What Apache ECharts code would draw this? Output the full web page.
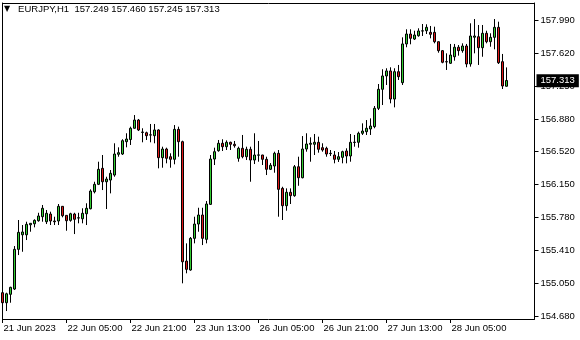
<!DOCTYPE html>
<html>
<head>
<meta charset="utf-8">
<script src="https://cdn.jsdelivr.net/npm/echarts@6/dist/echarts.min.js"></script>
<style>
html,body{margin:0;padding:0;background:#fff;}
#chart{width:580px;height:340px;}
</style>
</head>
<body>
<div id="chart"></div>
<script>
const symbolName = 'EURJPY,H1';
const xTickLabels = ['21 Jun 2023','22 Jun 05:00','22 Jun 21:00','23 Jun 13:00','26 Jun 05:00','26 Jun 21:00','27 Jun 13:00','28 Jun 05:00'];
const xTickStep = 16;
const yTicks = [154.680,155.050,155.410,155.780,156.150,156.520,156.880,157.250,157.620,157.990];
const yMin = 154.646, yMax = 158.180;
const emptyBarsRight = 7;

const opens = [154.940,154.828,154.922,154.981,155.425,155.588,155.588,155.700,155.711,155.745,
155.790,155.734,155.820,155.742,155.742,155.906,155.805,155.749,155.820,155.775,
155.767,155.823,155.879,156.069,156.152,156.331,156.181,156.200,156.256,156.488,
156.491,156.629,156.653,156.779,156.871,156.733,156.729,156.703,156.696,156.760,
156.450,156.547,156.461,156.432,156.767,156.629,155.294,155.194,155.548,155.708,
155.809,155.537,155.928,156.435,156.528,156.611,156.573,156.622,156.600,156.443,
156.555,156.461,156.544,156.424,156.478,156.480,156.432,156.320,156.357,156.499,
156.107,155.913,156.063,156.025,156.349,156.226,156.547,156.600,156.600,156.622,
156.562,156.555,156.499,156.480,156.432,156.454,156.525,156.469,156.620,156.622,
156.723,156.741,156.771,156.797,157.002,157.215,157.364,157.420,157.106,157.412,
157.289,157.722,157.833,157.777,157.814,157.866,157.870,157.852,157.852,157.747,
157.647,157.524,157.506,157.579,157.685,157.647,157.699,157.498,157.797,157.803,
157.680,157.841,157.747,157.796,157.908,157.524,157.249];
const highs = [155.082,154.940,155.007,155.462,155.753,155.697,155.734,155.719,155.761,155.834,
155.921,155.865,155.846,155.790,155.932,155.909,155.805,155.834,155.834,155.834,
155.884,155.940,156.096,156.181,156.405,156.480,156.237,156.312,156.611,156.566,
156.656,156.723,156.797,156.927,156.883,156.779,156.741,156.827,156.827,156.768,
156.573,156.562,156.499,156.815,156.797,156.640,155.492,155.563,155.790,155.890,
155.890,155.965,156.480,156.562,156.648,156.656,156.644,156.629,156.637,156.573,
156.704,156.573,156.573,156.723,156.637,156.482,156.461,156.390,156.517,156.536,
156.125,156.107,156.107,156.368,156.461,156.692,156.723,156.678,156.715,156.685,
156.611,156.573,156.536,156.525,156.513,156.528,156.555,156.715,156.704,156.741,
156.834,156.871,156.890,157.028,157.274,157.439,157.450,157.461,157.450,157.487,
157.796,157.886,157.886,157.870,157.897,157.945,157.942,157.923,157.915,157.750,
157.654,157.617,157.722,157.722,157.710,157.729,157.722,157.953,158.001,157.934,
157.934,157.870,157.841,158.001,157.971,157.610,157.460];
const lows = [154.780,154.735,154.828,154.970,155.361,155.398,155.529,155.622,155.671,155.734,
155.734,155.708,155.697,155.697,155.697,155.783,155.633,155.734,155.596,155.716,
155.716,155.697,155.872,156.051,156.144,156.088,155.876,156.051,156.237,156.461,
156.480,156.566,156.592,156.775,156.748,156.622,156.648,156.622,156.611,156.331,
156.338,156.387,156.338,156.376,156.461,155.045,155.157,155.186,155.492,155.622,
155.473,155.492,155.921,156.368,156.517,156.525,156.536,156.536,156.562,156.405,
156.443,156.424,156.181,156.379,156.405,156.368,156.256,156.312,156.282,155.790,
155.753,155.857,155.932,156.013,156.136,156.219,156.517,156.405,156.480,156.506,
156.517,156.461,156.469,156.387,156.402,156.387,156.387,156.405,156.573,156.562,
156.704,156.704,156.704,156.779,156.983,157.039,157.263,157.058,157.013,157.319,
157.263,157.685,157.718,157.766,157.803,157.811,157.833,157.785,157.729,157.624,
157.506,157.431,157.498,157.535,157.591,157.624,157.461,157.468,157.617,157.487,
157.579,157.729,157.691,157.662,157.498,157.218,157.245];
const closes = [154.828,154.928,155.000,155.425,155.615,155.619,155.705,155.716,155.749,155.798,
155.884,155.828,155.742,155.734,155.906,155.801,155.745,155.823,155.761,155.778,
155.828,155.884,156.077,156.152,156.320,156.181,156.211,156.275,156.491,156.506,
156.640,156.659,156.779,156.871,156.760,156.737,156.696,156.706,156.760,156.450,
156.547,156.443,156.432,156.767,156.629,155.286,155.201,155.548,155.708,155.809,
155.548,155.932,156.435,156.517,156.611,156.573,156.622,156.600,156.584,156.555,
156.461,156.544,156.424,156.480,156.481,156.432,156.320,156.365,156.499,156.096,
155.913,156.063,156.025,156.349,156.226,156.547,156.603,156.611,156.622,156.544,
156.536,156.491,156.496,156.432,156.461,156.517,156.469,156.622,156.624,156.723,
156.748,156.779,156.804,157.002,157.215,157.364,157.420,157.106,157.412,157.356,
157.722,157.833,157.785,157.822,157.867,157.869,157.908,157.830,157.747,157.647,
157.517,157.521,157.598,157.685,157.647,157.699,157.498,157.811,157.811,157.680,
157.841,157.747,157.796,157.908,157.512,157.252,157.313];

// hourly categories starting 21 Jun 2023 13:00 (weekend skipped)
const categories = [];
(function(){
  let t = Date.UTC(2023,5,21,13);
  const total = opens.length + emptyBarsRight;
  for (let i = 0; i < total; i++) {
    const d = new Date(t);
    if (d.getUTCDay() === 6) { t += 48*3600e3; i--; continue; }
    categories.push(d.toISOString().slice(0,16));
    t += 3600e3;
  }
})();

const candleData = opens.map((o,i)=>[o, closes[i], lows[i], highs[i]]);
const last = opens.length - 1;
const fmt = v => v.toFixed(3);
const headerText = symbolName + '  ' + [opens[last],highs[last],lows[last],closes[last]].map(fmt).join(' ');

const chart = echarts.init(document.getElementById('chart'), null, {renderer:'canvas'});
const FONT = '"Liberation Sans", Arial, sans-serif';
const isTick = idx => idx % xTickStep === 0 && (idx / xTickStep) < xTickLabels.length;
const frameLine = { show: true, onZero: false, lineStyle: { color: '#000', width: 1 } };

chart.setOption({
  animation: false,
  backgroundColor: '#fff',
  title: {
    text: '{t|▼}   ' + headerText,
    left: 4, top: 4, padding: 0,
    textStyle: {
      fontFamily: FONT, fontSize: 9.5, fontWeight: 'normal', color: '#000',
      rich: { t: { fontSize: 8, fontFamily: '"DejaVu Sans", sans-serif', color: '#000' } }
    }
  },
  grid: {
    left: 2.5, right: 45.5, top: 3, bottom: 21,
    show: false
  },
  xAxis: [{
    type: 'category',
    data: categories,
    boundaryGap: false,
    axisLine: frameLine,
    axisTick: { show: true, interval: (idx) => isTick(idx), length: 4, lineStyle: { color: '#000' } },
    axisLabel: {
      show: true,
      interval: (idx) => isTick(idx),
      formatter: (val, idx) => xTickLabels[Math.round(idx / xTickStep)] || '',
      align: 'left', margin: 4, padding: [0,0,0,1],
      fontFamily: FONT, fontSize: 9.5, color: '#000'
    },
    splitLine: { show: false }
  }, {
    type: 'category',
    data: categories,
    position: 'top',
    boundaryGap: false,
    axisLine: frameLine,
    axisTick: { show: false }, axisLabel: { show: false }, splitLine: { show: false }
  }],
  yAxis: [{
    type: 'value',
    position: 'right',
    min: yMin, max: yMax,
    axisLine: frameLine,
    axisTick: { show: true, customValues: yTicks, length: 4, lineStyle: { color: '#000' } },
    axisLabel: {
      show: true, customValues: yTicks, formatter: v => fmt(v),
      margin: 6, fontFamily: FONT, fontSize: 9.5, color: '#000'
    },
    splitLine: { show: false }
  }, {
    type: 'value',
    position: 'left',
    min: yMin, max: yMax,
    axisLine: frameLine,
    axisTick: { show: false }, axisLabel: { show: false }, splitLine: { show: false }
  }],
  series: [{
    type: 'candlestick',
    data: candleData,
    barWidth: 2,
    clip: true,
    itemStyle: {
      color: '#32cd32', color0: '#e01818',
      borderColor: '#000', borderColor0: '#000', borderColorDoji: '#000',
      borderWidth: 1
    },
    markLine: {
      silent: true,
      symbol: ['none','none'],
      animation: false,
      data: [{ yAxis: closes[last] }],
      lineStyle: { color: 'rgba(0,0,0,0)', width: 1 },
      label: {
        show: true, position: 'end', distance: 2,
        formatter: () => fmt(closes[last]),
        backgroundColor: '#000', color: '#fff',
        padding: [2,4,1,4],
        fontFamily: FONT, fontSize: 9.5
      }
    }
  }]
});
</script>
</body>
</html>
